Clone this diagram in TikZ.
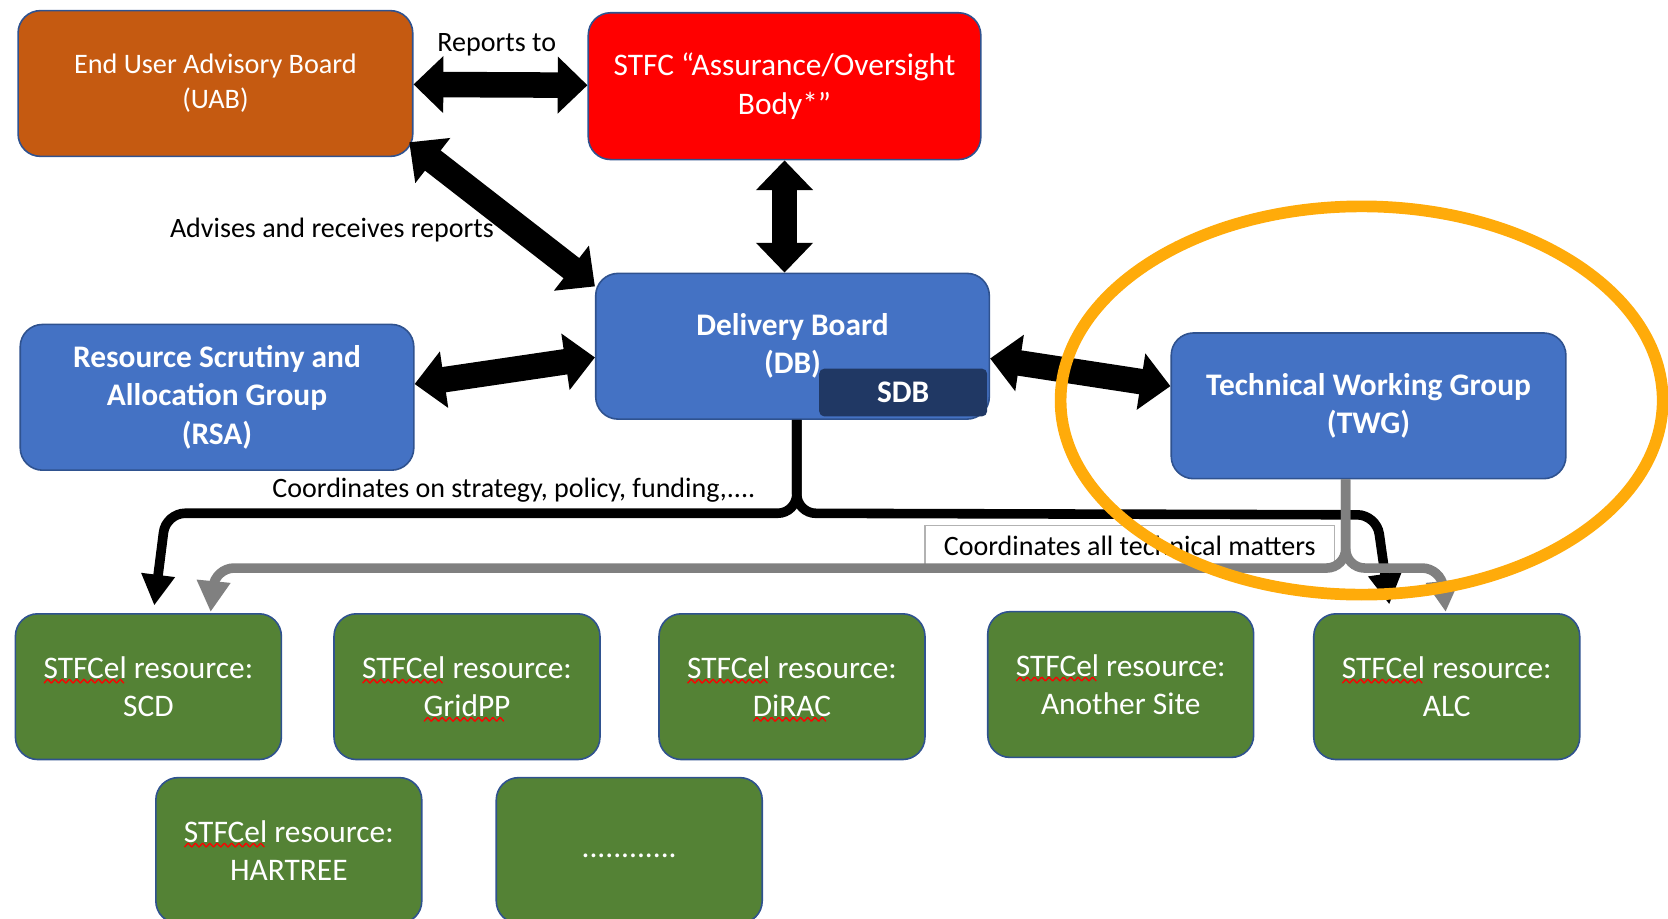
\documentclass[tikz,border=0pt]{standalone}
\usepackage{fontspec}
\setmainfont{Carlito}
\usepackage{graphicx}
\usetikzlibrary{arrows.meta}
\definecolor{uab}{HTML}{C55A11}
\definecolor{dbblue}{HTML}{4472C4}
\definecolor{sdbblue}{HTML}{203864}
\definecolor{resgreen}{HTML}{548235}
\definecolor{edge}{HTML}{2F528F}
\definecolor{ring}{HTML}{FFAB0A}
\newsavebox{\typobox}
\newcommand{\typo}[1]{\sbox{\typobox}{#1}\rlap{\smash{\lower1.4pt\hbox to\wd\typobox{\color{red}\leaders\hbox{\rotatebox{48}{\rule{1.45pt}{.35pt}}\kern-.26pt\raisebox{1.08pt}{\rotatebox{-48}{\rule{1.45pt}{.35pt}}}\kern-.26pt}\hfill}}}\usebox{\typobox}}
\begin{document}
\begin{tikzpicture}[box/.style={draw=edge, line width=0.015cm, rounded corners=0.21cm, inner sep=0pt, minimum height=1.37cm, text=white, align=center, font=\fontsize{8.4}{10.2}\selectfont}, bold/.style={font=\fontsize{8.4}{10.2}\selectfont\bfseries}, res/.style={box, fill=resgreen, minimum width=2.5cm}, lab/.style={inner sep=0pt, font=\fontsize{7.5}{9.4}\selectfont}, twoway/.style={line width=0.24cm, {Triangle[width=0.52cm,length=0.28cm]}-{Triangle[width=0.52cm,length=0.28cm]}}, bus/.style={line width=0.09cm, rounded corners=0.18cm, -{Triangle[width=0.3cm,length=0.29cm]}}]
\useasboundingbox (0,0) rectangle (15.68,8.63);
\clip (0,0) rectangle (15.68,8.63);
\node[box, fill=uab, minimum width=3.71cm, font=\fontsize{7.55}{9.4}\selectfont] (UAB) at (2.025,7.845) {End User Advisory Board\\(UAB)};
\node[box, fill=red, minimum width=3.69cm, minimum height=1.38cm] (STFC) at (7.375,7.82) {STFC “Assurance/Oversight\\Body*”};
\node[box, bold, fill=dbblue, minimum width=3.70cm] (DB) at (7.45,5.375) {Delivery Board\\(DB)};
\node[bold, fill=sdbblue, rounded corners=0.05cm, inner sep=0pt, minimum width=1.58cm, minimum height=0.45cm, text=white] (SDB) at (8.49,4.94) {SDB};
\node[box, bold, fill=dbblue, minimum width=3.70cm] (RSA) at (2.04,4.895) {Resource Scrutiny and\\Allocation Group\\(RSA)};
\node[box, bold, fill=dbblue, minimum width=3.71cm] (TWG) at (12.865,4.815) {Technical Working Group\\(TWG)};
\node[res] (SCD) at (1.395,2.175) {\typo{STFCel} resource:\\SCD};
\node[res] (GridPP) at (4.39,2.175) {\typo{STFCel} resource:\\\typo{GridPP}};
\node[res] (DiRAC) at (7.445,2.175) {\typo{STFCel} resource:\\\typo{DiRAC}};
\node[res] (Other) at (10.535,2.195) {\typo{STFCel} resource:\\Another Site};
\node[res] (ALC) at (13.60,2.175) {\typo{STFCel} resource:\\ALC};
\node[res] (HARTREE) at (2.715,0.635) {\typo{STFCel} resource:\\HARTREE};
\node[res] (More) at (5.915,0.635) {\vphantom{x}............};
\node[lab] (rep) at (4.67,8.205) {Reports to};
\node[lab] (adv) at (3.12,6.47) {Advises and receives reports};
\node[lab] (strat) at (4.83,4.02) {Coordinates on strategy, policy, funding,....};
\node[lab, draw=gray!60, line width=0.015cm, fill=white, minimum width=3.85cm, minimum height=0.38cm] (tech) at (10.62,3.50) {Coordinates all technical matters};
\draw[twoway] (UAB) -- (STFC);
\draw[twoway] ([shift={(-0.04,0.14)}]UAB.south east) -- ([yshift=-0.13cm]DB.north west);
\draw[twoway] (STFC.south) -- (STFC.south |- DB.north);
\draw[twoway] ([yshift=0.125cm]RSA.east) -- ([yshift=-0.105cm]DB.west);
\draw[twoway] ([yshift=-0.115cm]DB.east) -- ([yshift=0.185cm]TWG.west);
\draw[bus] ([xshift=0.04cm]DB.south) -- (7.49,3.805) -- (1.56,3.805) -- ([xshift=0.055cm,yshift=0.07cm]SCD.north);
\draw[bus] ([xshift=0.04cm]DB.south) -- (7.49,3.805) -- (12.94,3.79) -- ([xshift=-0.54cm,yshift=0.08cm]ALC.north);
\draw[bus, gray] ([xshift=-0.215cm]TWG.south) -- (12.65,3.29) -- (2.02,3.29) -- ([xshift=0.585cm,yshift=0.01cm]SCD.north);
\draw[bus, gray] ([xshift=-0.215cm]TWG.south) -- (12.65,3.29) -- (13.55,3.29) -- ([xshift=-0.01cm,yshift=0.01cm]ALC.north);
\draw[ring, line width=0.11cm] (12.80,4.865) ellipse [x radius=2.83cm, y radius=1.825cm];
\end{tikzpicture}
\end{document}
